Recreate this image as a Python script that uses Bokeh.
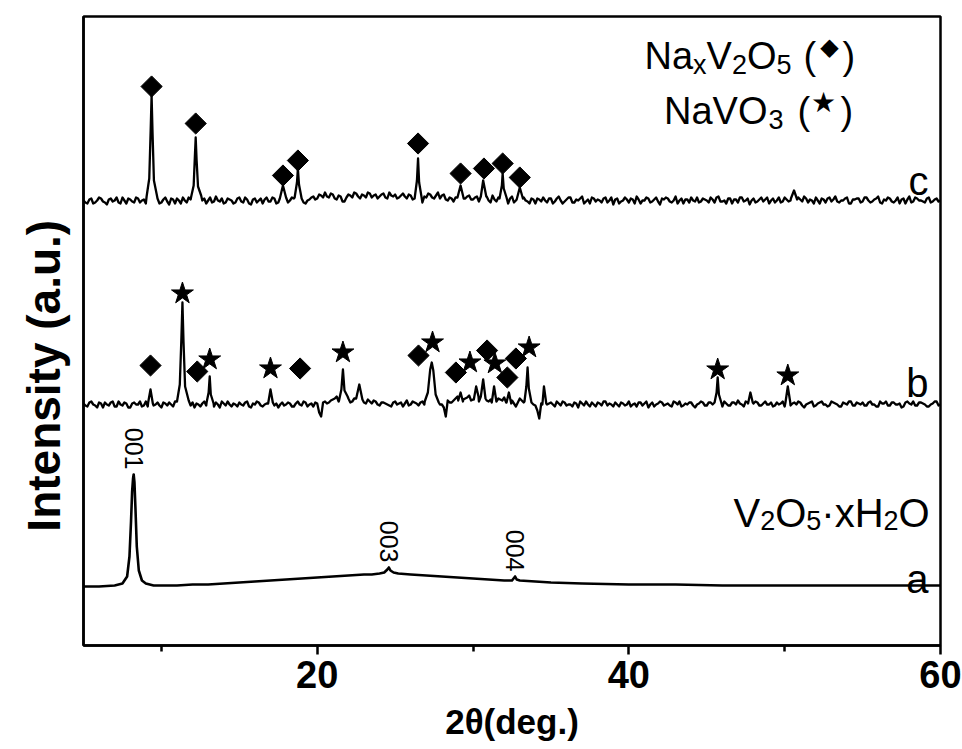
import numpy as np
from bokeh.plotting import figure
from bokeh.models import Range1d, FixedTicker, Label
from bokeh.embed import file_html
from bokeh.resources import INLINE

# ---------------- data ----------------
x_major_ticks = [20, 40, 60]
x_minor_ticks = [10, 30, 50]

# noisy baseline samples, intensity in a.u.: first list at 5.00, 5.25, ... ;
# second list in between, at 5.125, 5.375, ...
noise_start = 5.0
noise_step = 0.25
c_noise = [0, -3, 2, -2, 3, -1, -4, 2, 0, -2, 3, -3, 1, -2, 2, 0, -3, 3, -1, 2,
           -2, 3, -4, 1, 2, -3, 0, 3, -2, 1, -3, 2, 0, -2, 4, -1, -3, 2, 0, -2,
           3, -2, 1, -4, 2, 0, -3, 3, -1, 2, -2, 4, -3, 0, 2, -1, 3, -3, 1, 4,
           2, 5, 8, 3, 6, 1, 4, -1, 6, 3, 7, 2, 5, 8, 3, 6, 4, 7, 2, 5,
           6, 3, 7, 2, 5, 1, 4, -2, 3, 6, 2, 8, 5, 1, 3, -1, 4, 0, 2, 5,
           1, 4, -2, 3, 0, 5, -1, 3, 2, -3, 4, 0, -2, 3, -1, 2, -3, 1, 3, -2,
           2, -1, 4, -3, 1, 3, -2, 0, 4, -1, -3, 2, 1, -2, 3, 0, -4, 2, -1, 3,
           -2, 1, 4, -3, 0, 2, -1, 3, -4, 1, 2, -2, 4, 0, -3, 1, 3, -1, -2, 2,
           0, 3, -2, 4, -1, -3, 2, 1, -2, 3, 0, -4, 2, -1, 3, 1, -3, 2, 0, -2,
           3, -1, 2, -3, 1, 4, -2, 0, 3, -3, 1, 2, -1, 4, -2, 0, 3, -3, 1, 2,
           -1, 3, -2, 1, 4, -3, 0, 2, -2, 3, 1, -3, 4, -1, 2, 0, -2, 3, -1, 2, 0]
c_noise_mid = [-2, 1, -3, 0, 2, -2, 1, -1, 3, -3, 0, 2, -1, 3, -2, 1, -2, 0, 2, -3,
               1, -1, 2, -3, 0, 3, -2, 1, -1, 2, 0, -3, 3, -1, 0, 2, -2, 1, -3, 2,
               -1, 3, -3, 1, -2, 2, 1, -1, 3, -3, 0, 1, -2, 3, -1, 2, -2, 0, 3, 1,
               6, 3, 4, 7, 2, 5, -1, 3, 5, 8, 4, 6, 3, 7, 5, 2, 6, 3, 8, 4,
               2, 5, 4, 6, 1, 3, 0, 4, 7, 3, 5, 2, 6, 0, 2, 3, 1, -2, 4, 1,
               3, -1, 2, 4, -2, 1, 3, 0, -1, 2, -2, 3, 1, 0, -3, 1, 2, -1, 0, 2,
               -3, 2, 0, -1, 3, -2, 1, 2, -3, 1, 3, -1, 0, 2, -2, 3, 1, -3, 0, 1,
               2, -3, 1, 0, 3, -2, 1, -1, 2, 3, -1, 0, -3, 2, 1, -2, 0, 3, -1, 1,
               -2, 1, 3, -1, 0, 2, -3, 1, 3, -1, 2, 0, -2, 1, -1, 3, 0, -2, 3, -1,
               1, 0, -2, 3, -1, 2, 1, -3, 0, 2, -2, 3, 1, -1, 0, 2, -3, 1, 2, -2,
               3, 0, -1, 2, -2, 1, 3, -1, 0, -3, 2, 1, -2, 3, 0, -1, 2, -2, 1, -1]
b_noise = [1, -2, 3, -1, 2, -3, 0, 2, -2, 3, -1, 1, -3, 2, 0, -2, 3, 1, -1, 2,
           -3, 1, 2, -2, 3, 0, -1, -3, 2, 1, -2, 3, -1, 0, 2, -3, 1, 3, -2, 0,
           2, -1, 3, -3, 0, 2, -2, 1, 3, -1, -3, 2, 0, 1, -2, 3, -1, 2, 0, -2,
           1, -12, 3, 2, 5, 8, 4, 10, 6, 3, 8, 4, 2, 5, 1, 3, -1, 2, 0, -2,
           3, 1, -2, 4, 0, 2, -1, 3, -2, 1, 3, 2, 0, -12, 2, 4, 8, 3, 6, 9,
           5, 7, 4, 8, 3, 6, 2, 5, 7, 3, 4, -2, 6, 2, 1, 3, -1, -14, 2, 0,
           2, -2, 1, 3, -1, 0, 2, -3, 1, 3, -2, 0, 2, -1, 3, 1, -2, 0, 2, -1,
           3, 0, -2, 2, 1, -3, 2, 0, 3, -1, 1, -2, 2, 3, -1, 0, 2, -3, 1, 2,
           -1, 2, 0, 3, -2, 1, -1, 2, 4, 0, 3, -2, 1, 2, -1, 3, 0, -2, 2, 1,
           -2, 3, 1, 0, 2, -3, 1, 3, -1, 2, 0, -2, 3, 1, -2, 2, 0, 3, -1, 1,
           2, -1, 3, 0, -2, 1, 3, -1, 2, 0, -3, 2, 1, 3, -1, 2, 0, -2, 1, 3, 0]
b_noise_mid = [-1, 2, 0, -3, 1, 2, -1, 3, -2, 0, 2, -3, 1, 0, 3, -1, -2, 2, 0, -1,
               2, -1, 0, 3, -2, 1, 2, -1, -3, 0, 1, -1, 2, -2, 0, 3, -1, 0, 1, -2,
               0, 2, -2, 1, 3, -1, 0, 2, -3, 1, 0, -1, 2, -2, 1, 0, 3, -2, 1, 2,
               -8, 2, 1, 4, 6, 3, 8, 5, 2, 6, 3, 5, 1, 3, 4, 0, 2, 1, -1, 2,
               0, 2, 1, -1, 3, 1, 2, 0, 3, 1, 2, 0, -3, 4, 2, 6, 3, 5, 7, 4,
               6, 3, 7, 4, 5, 3, 6, 4, 2, 5, 1, 2, 4, -1, 3, 0, -6, 1, 3, 1,
               0, 3, -1, 2, 0, -2, 1, 3, -1, 0, 2, -2, 1, 3, -1, 0, 2, -2, 1, 0,
               -2, 1, 2, -1, 3, 0, -2, 1, 2, 0, -1, 3, 0, -2, 1, 2, -1, 0, 3, -1,
               2, 0, -2, 1, 3, -1, 2, 0, 1, -2, 2, 0, 3, -1, 1, 0, 2, -1, 0, 3,
               0, -1, 2, 3, -1, 0, 2, -2, 1, 3, 0, -1, 2, 0, -2, 1, 3, -1, 2, 0,
               -1, 2, 0, -2, 3, 1, -1, 2, 0, 1, -2, 3, 0, -1, 2, 1, -2, 0, 3, -1]

# peak profiles (2theta, intensity) for pattern c (NaxV2O5)
c_peaks = [
    [(9.05, 4), (9.22, 22), (9.31, 70), (9.37, 105), (9.43, 68), (9.52, 20), (9.7, 6)],
    [(11.9, 3), (12.07, 15), (12.15, 45), (12.2, 63), (12.26, 40), (12.35, 14), (12.55, 5)],
    [(17.6, 2), (17.8, 15), (18.0, 3)],
    [(18.55, 3), (18.7, 18), (18.76, 32), (18.83, 16), (19.0, 2)],
    [(26.25, 2), (26.4, 20), (26.47, 42), (26.54, 18), (26.7, 3)],
    [(29.0, 3), (29.2, 15), (29.4, 2)],
    [(30.5, 4), (30.65, 20), (30.85, 4)],
    [(31.7, 2), (31.85, 15), (31.9, 27), (31.97, 12), (32.15, 3)],
    [(32.8, 1), (33.0, 13), (33.2, 2)],
    [(50.4, 2), (50.6, 10), (50.8, 1)],
]
# peak profiles for pattern b (NaxV2O5 + NaVO3)
b_peaks = [
    [(9.15, 2), (9.3, 15), (9.45, 1)],
    [(11.0, 3), (11.18, 20), (11.28, 65), (11.35, 102), (11.42, 62), (11.52, 18), (11.75, 4)],
    [(12.9, 2), (13.03, 12), (13.1, 28), (13.17, 10), (13.35, 1)],
    [(16.85, 1), (17.0, 15), (17.15, 2)],
    [(21.4, 4), (21.55, 15), (21.65, 35), (21.75, 14), (21.95, 8)],
    [(22.5, 6), (22.7, 20), (22.9, 5)],
    [(26.9, 3), (27.1, 12), (27.25, 35), (27.35, 42), (27.45, 34), (27.6, 10), (27.8, 2)],
    [(29.05, 4), (29.2, 12), (29.35, 3)],
    [(30.05, 5), (30.2, 18), (30.35, 8)],
    [(30.5, 8), (30.65, 25), (30.8, 6)],
    [(31.2, 2), (31.35, 18), (31.5, 3)],
    [(32.15, 2), (32.3, 12), (32.45, 1)],
    [(33.3, 3), (33.42, 18), (33.5, 37), (33.58, 16), (33.75, 2)],
    [(34.45, 0), (34.55, 18), (34.7, 1)],
    [(45.5, 2), (45.63, 12), (45.7, 27), (45.78, 10), (45.95, 1)],
    [(47.65, 1), (47.8, 12), (47.95, 2)],
    [(50.05, 2), (50.2, 18), (50.35, 3)],
]
# pattern a (V2O5 xH2O), smooth
a_x = [5, 6, 7, 7.5, 7.8, 7.95, 8.05, 8.12, 8.18, 8.22, 8.27, 8.33, 8.42, 8.55, 8.75,
       9.0, 9.5, 10, 11, 12, 13, 14, 15, 16, 17, 18, 19, 20, 21, 22, 23, 23.5, 24,
       24.3, 24.5, 24.6, 24.7, 24.9, 25.2, 26, 27, 28, 29, 30, 31, 32, 32.5, 32.6,
       32.7, 32.8, 33, 34, 35, 37, 40, 43, 46, 50, 55, 60]
a_y = [0, 0, 1, 3, 10, 30, 65, 95, 108, 112, 104, 80, 40, 16, 6,
       3, 1, 1, 1, 2, 2, 3, 4, 5, 6, 7, 8, 9, 10, 11, 12, 12, 13,
       14, 17, 19, 16, 14, 13, 12, 11, 10, 9, 8, 7, 6, 6, 8,
       10, 7, 6, 5, 4, 3, 2, 2, 1, 1, 1, 1]

# vertical stacking offsets of the three patterns
offset_a, offset_b, offset_c = 59, 241, 445

# phase markers (2theta, height above the pattern's baseline)
c_diamond_x = [9.37, 12.2, 17.8, 18.76, 26.47, 29.2, 30.7, 31.9, 33.0]
c_diamond_y = [114, 77, 25, 40, 57, 27, 32, 37, 23]
b_diamond_x = [9.3, 12.3, 18.9, 26.5, 28.9, 30.9, 32.2, 32.75]
b_diamond_y = [39, 33, 36, 49, 32, 54, 27, 46]
b_star_x = [11.35, 13.1, 17.0, 21.65, 27.4, 29.8, 31.4, 33.6, 45.7, 50.2]
b_star_y = [111, 45, 36, 52, 62, 42, 41, 57, 35, 29]

hkl_labels = ["001", "003", "004"]
hkl_x = [8.22, 24.6, 32.7]
hkl_top = [112, 19, 10]

FONT = "Liberation Sans"


def build(noise, noise_mid, peaks, offset):
    xs = np.concatenate([noise_start + noise_step * np.arange(len(noise)),
                         noise_start + noise_step / 2 + noise_step * np.arange(len(noise_mid))])
    ys = np.array(list(noise) + list(noise_mid), dtype=float)
    keep = np.ones(len(xs), dtype=bool)
    px, py = [], []
    for grp in peaks:
        gx = [g[0] for g in grp]
        gy = [g[1] for g in grp]
        keep &= ~((xs >= min(gx) - 0.01) & (xs <= max(gx) + 0.01))
        px += gx
        py += gy
    allx = np.concatenate([xs[keep], np.array(px)])
    ally = np.concatenate([ys[keep], np.array(py, dtype=float)])
    order = np.argsort(allx, kind="stable")
    return allx[order], ally[order] + offset


cx, cy = build(c_noise, c_noise_mid, c_peaks, offset_c)
bx, by = build(b_noise, b_noise_mid, b_peaks, offset_b)
ax_ = np.array(a_x, dtype=float)
ay_ = np.array(a_y, dtype=float) + offset_a

# ---------------- figure ----------------
p = figure(width=962, height=749, x_range=Range1d(5, 60), y_range=Range1d(0, 629),
           output_backend="svg", toolbar_location=None,
           min_border_left=83, min_border_right=22, min_border_top=16, min_border_bottom=104)
p.background_fill_color = "white"
p.border_fill_color = "white"
p.outline_line_color = "black"
p.outline_line_width = 2.5
p.xgrid.grid_line_color = None
p.ygrid.grid_line_color = None

for xs, ys in ((cx, cy), (bx, by)):
    p.line(xs, ys, line_color="black", line_width=2.3, line_join="round")
p.line(ax_, ay_, line_color="black", line_width=2.6, line_join="round")

p.scatter(c_diamond_x, [v + offset_c for v in c_diamond_y], marker="square", angle=np.pi / 4,
          size=15, fill_color="black", line_color="black")
p.scatter(b_diamond_x, [v + offset_b for v in b_diamond_y], marker="square", angle=np.pi / 4,
          size=15, fill_color="black", line_color="black")
p.scatter(b_star_x, [v + offset_b for v in b_star_y], marker="star",
          size=23, fill_color="black", line_color="black")

# axes
xa = p.xaxis[0]
xa.ticker = FixedTicker(ticks=x_major_ticks, minor_ticks=x_minor_ticks)
xa.axis_line_width = 2.5
xa.major_tick_line_width = 2.5
xa.minor_tick_line_width = 2.5
xa.major_tick_in = 0
xa.major_tick_out = 9
xa.minor_tick_in = 0
xa.minor_tick_out = 6
xa.major_label_text_font = FONT
xa.major_label_text_font_style = "bold"
xa.major_label_text_font_size = "38px"
xa.major_label_text_color = "black"
xa.major_label_standoff = 6
xa.axis_label = "2θ(deg.)"
xa.axis_label_text_font = FONT
xa.axis_label_text_font_style = "bold"
xa.axis_label_text_font_size = "35px"
xa.axis_label_text_color = "black"
xa.axis_label_standoff = 11

ya = p.yaxis[0]
ya.ticker = FixedTicker(ticks=[])
ya.axis_line_width = 2.5
ya.major_tick_line_color = None
ya.minor_tick_line_color = None
ya.major_label_text_font_size = "0px"
ya.major_label_standoff = 0
# trailing no-break spaces move the title down along the axis, as in the original
ya.axis_label = "Intensity (a.u.)" + "\u00a0" * 7
ya.axis_label_text_font = FONT
ya.axis_label_text_font_style = "bold"
ya.axis_label_text_font_size = "46px"
ya.axis_label_text_color = "black"
ya.axis_label_standoff = 14


# ---------------- annotations (inside the frame) ----------------
def px2x(px):
    return 5 + (px - 83) * 55.0 / 857.0


def py2y(py):
    return 645 - py


WID = {'N': .722, 'a': .556, 'x': .5, 'V': .667, 'O': .778, 'H': .722, '(': .333,
       ')': .333, ' ': .278, '·': .333, '2': .556, '3': .556, '5': .556}


def rich(pieces, x0, base_py):
    x = x0
    for txt, size, dy in pieces:
        p.add_layout(Label(x=px2x(x), y=py2y(base_py + dy), text=txt, text_font=FONT,
                           text_font_size=f"{size}px", text_align="left",
                           text_baseline="alphabetic", text_color="black"))
        x += sum(WID[ch] for ch in txt) * size


def label(px, py, txt, size, align="left", baseline="alphabetic", font=FONT, angle=0.0,
          style="normal"):
    p.add_layout(Label(x=px2x(px), y=py2y(py), text=txt, text_font=font,
                       text_font_size=f"{size}px", text_align=align, text_font_style=style,
                       text_baseline=baseline, text_color="black", angle=angle))


# legend-like titles
rich([("Na", 38, 0), ("x", 27, 9), ("V", 38, 0), ("2", 27, 9), ("O", 38, 0),
      ("5", 27, 9)], 644, 55)
label(803, 55, "(", 38)
label(829, 46, "◆", 24, align="center", baseline="middle", font="DejaVu Sans")
label(842, 55, ")", 38)

label(767, 110, "NaVO", 38, align="right")
label(768, 119, "3", 27)
label(797, 110, "(", 38)
label(823, 102, "★", 28, align="center", baseline="middle", font="DejaVu Sans")
label(840, 110, ")", 38)

rich([("V", 40, 0), ("2", 27, 8), ("O", 40, 0), ("5", 27, 8), ("·", 40, 0),
      ("x", 40, 0), ("H", 40, 0), ("2", 27, 8), ("O", 40, 0)], 733, 512)

label(928, 180, "c", 40, align="right")
label(928, 382, "b", 40, align="right")
label(928, 578, "a", 40, align="right")

for t, hx, ht in zip(hkl_labels, hkl_x, hkl_top):
    p.add_layout(Label(x=hx, y=offset_a + ht + 5, text=t, text_font=FONT,
                       text_font_size="25px", text_align="right", text_baseline="middle",
                       text_color="black", angle=-np.pi / 2))

open("out.html", "w").write(file_html(p, INLINE))
